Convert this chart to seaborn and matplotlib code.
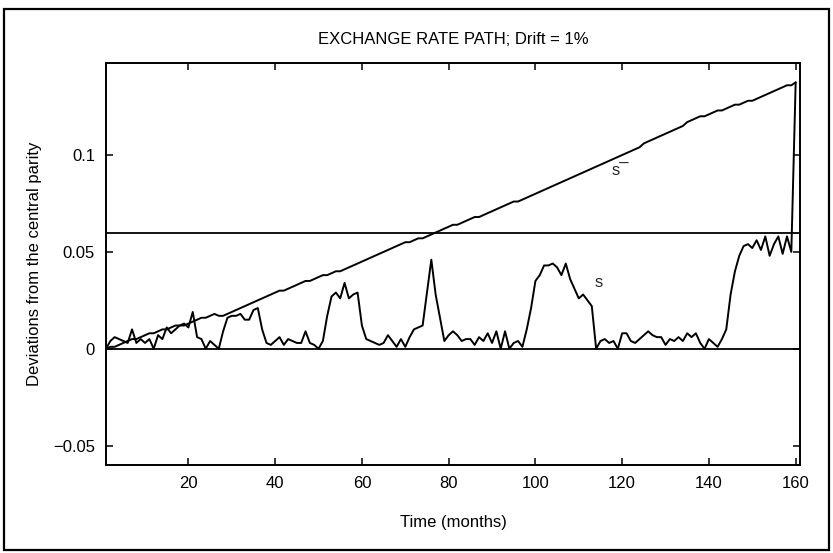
import matplotlib
matplotlib.use("Agg")
import matplotlib.pyplot as plt
import seaborn as sns
import pandas as pd
from matplotlib.patches import Rectangle
from matplotlib.ticker import FixedLocator, FixedFormatter

# ---------------- data ----------------
months = list(range(1, 161))

s_bar = [
    0.000, 0.001, 0.001, 0.002, 0.003, 0.004, 0.005, 0.005, 0.006, 0.007,
    0.008, 0.008, 0.009, 0.010, 0.010, 0.011, 0.012, 0.012, 0.012, 0.013,
    0.014, 0.015, 0.016, 0.016, 0.017, 0.018, 0.017, 0.017, 0.018, 0.019,
    0.020, 0.021, 0.022, 0.023, 0.024, 0.025, 0.026, 0.027, 0.028, 0.029,
    0.030, 0.030, 0.031, 0.032, 0.033, 0.034, 0.035, 0.035, 0.036, 0.037,
    0.038, 0.038, 0.039, 0.040, 0.040, 0.041, 0.042, 0.043, 0.044, 0.045,
    0.046, 0.047, 0.048, 0.049, 0.050, 0.051, 0.052, 0.053, 0.054, 0.055,
    0.055, 0.056, 0.057, 0.057, 0.058, 0.059, 0.060, 0.061, 0.062, 0.063,
    0.064, 0.064, 0.065, 0.066, 0.067, 0.068, 0.068, 0.069, 0.070, 0.071,
    0.072, 0.073, 0.074, 0.075, 0.076, 0.076, 0.077, 0.078, 0.079, 0.080,
    0.081, 0.082, 0.083, 0.084, 0.085, 0.086, 0.087, 0.088, 0.089, 0.090,
    0.091, 0.092, 0.093, 0.094, 0.095, 0.096, 0.097, 0.098, 0.099, 0.100,
    0.101, 0.102, 0.103, 0.104, 0.106, 0.107, 0.108, 0.109, 0.110, 0.111,
    0.112, 0.113, 0.114, 0.115, 0.117, 0.118, 0.119, 0.120, 0.120, 0.121,
    0.122, 0.123, 0.123, 0.124, 0.125, 0.126, 0.126, 0.127, 0.128, 0.128,
    0.129, 0.130, 0.131, 0.132, 0.133, 0.134, 0.135, 0.136, 0.136, 0.1375,
]

s = [
    0.000, 0.004, 0.006, 0.005, 0.004, 0.003, 0.010, 0.003, 0.005, 0.003,
    0.005, 0.000, 0.007, 0.005, 0.011, 0.008, 0.010, 0.012, 0.013, 0.011,
    0.019, 0.006, 0.005, 0.000, 0.004, 0.002, 0.000, 0.009, 0.016, 0.017,
    0.017, 0.018, 0.015, 0.015, 0.020, 0.021, 0.010, 0.003, 0.002, 0.004,
    0.006, 0.002, 0.005, 0.004, 0.003, 0.003, 0.009, 0.003, 0.002, 0.000,
    0.004, 0.017, 0.027, 0.029, 0.026, 0.034, 0.026, 0.028, 0.029, 0.012,
    0.005, 0.004, 0.003, 0.002, 0.003, 0.007, 0.004, 0.001, 0.005, 0.001,
    0.006, 0.010, 0.011, 0.012, 0.029, 0.046, 0.028, 0.016, 0.004, 0.007,
    0.009, 0.007, 0.004, 0.005, 0.005, 0.002, 0.006, 0.004, 0.008, 0.003,
    0.009, 0.000, 0.009, 0.000, 0.003, 0.004, 0.001, 0.010, 0.021, 0.035,
    0.038, 0.043, 0.043, 0.044, 0.042, 0.038, 0.044, 0.036, 0.031, 0.026,
    0.028, 0.025, 0.022, 0.000, 0.004, 0.005, 0.003, 0.004, 0.000, 0.008,
    0.008, 0.004, 0.003, 0.005, 0.007, 0.009, 0.007, 0.006, 0.006, 0.002,
    0.005, 0.004, 0.006, 0.004, 0.008, 0.006, 0.008, 0.003, 0.000, 0.005,
    0.003, 0.001, 0.005, 0.010, 0.028, 0.040, 0.048, 0.053, 0.054, 0.052,
    0.056, 0.051, 0.058, 0.048, 0.054, 0.058, 0.049, 0.058, 0.050, 0.1375,
]

band_lower = 0.0
band_upper = 0.06

xticks = [20, 40, 60, 80, 100, 120, 140, 160]
xtick_labels = ["20", "40", "60", "80", "100", "120", "140", "160"]
yticks = [-0.05, 0.0, 0.05, 0.1]
ytick_labels = ["\u22120.05", "0", "0.05", "0.1"]

title = "EXCHANGE RATE PATH; Drift = 1%"
xlabel = "Time (months)"
ylabel = "Deviations from the central parity"
label_sbar = "s\u00af"
label_s = "s"

# ---------------- plot ----------------
sns.set_theme(style="ticks")
plt.rcParams["font.family"] = ["Liberation Sans", "DejaVu Sans"]
plt.rcParams["axes.unicode_minus"] = True

fig = plt.figure(figsize=(8.33, 5.53), dpi=100)
fig.patch.set_facecolor("white")
ax = fig.add_axes([106 / 833, 1 - 465 / 553, 694 / 833, 402 / 553])

df = pd.DataFrame({
    "t": months + months,
    "value": s_bar + s,
    "series": ["sbar"] * len(months) + ["s"] * len(months),
})
sns.lineplot(data=df, x="t", y="value", hue="series",
             palette={"sbar": "black", "s": "black"},
             legend=False, linewidth=1.4, ax=ax, sort=False)

ax.axhline(band_upper, color="black", linewidth=1.3)
ax.axhline(band_lower, color="black", linewidth=1.3)

ax.set_xlim(1, 161)
ax.set_ylim(-0.06, 0.1475)
ax.xaxis.set_major_locator(FixedLocator(xticks))
ax.xaxis.set_major_formatter(FixedFormatter(xtick_labels))
ax.yaxis.set_major_locator(FixedLocator(yticks))
ax.yaxis.set_major_formatter(FixedFormatter(ytick_labels))
ax.tick_params(direction="in", top=True, right=True, length=5, width=1.1,
               labelsize=12, colors="black", pad=8)
for sp in ax.spines.values():
    sp.set_linewidth(1.4)
    sp.set_color("black")
ax.set_facecolor("white")

ax.set_title(title, fontsize=12, pad=14, color="black")
ax.set_xlabel(xlabel, fontsize=12, labelpad=17, color="black")
ax.set_ylabel(ylabel, fontsize=12, labelpad=8, color="black")

ax.text(119.5, 0.092, label_sbar, fontsize=12, ha="center", va="center")
ax.text(114.5, 0.034, label_s, fontsize=12, ha="center", va="center")

fig.patches.append(Rectangle((0.005, 0.006), 0.99, 0.978, transform=fig.transFigure,
                             fill=False, linewidth=1.6, edgecolor="black"))

fig.savefig("out.png", dpi=100, facecolor="white")
